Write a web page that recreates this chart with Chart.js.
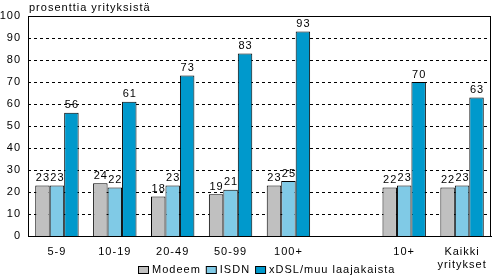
<!DOCTYPE html>
<html><head><meta charset="utf-8">
<script src="https://cdn.jsdelivr.net/npm/chart.js@4/dist/chart.umd.min.js"></script>
<style>html,body{margin:0;padding:0;background:#fff}#wrap{width:493px;height:280px;position:relative}</style>
</head><body><div id="wrap"><canvas id="c" width="493" height="280"></canvas></div>
<script>
const categories = ['5-9','10-19','20-49','50-99','100+','',  '10+', ['Kaikki','yritykset']];
const modeem = [23,24,18,19,23,null,22,22];
const isdn   = [23,22,23,21,25,null,23,23];
const xdsl   = [56,61,73,83,93,null,70,63];
const seriesNames = ['Modeem','ISDN','xDSL/muu laajakaista'];
const seriesColors = ['#c0c0c0','#80cae6','#0099cc'];
const yTitle = 'prosenttia yrityksistä';
const yTicks = [0,10,20,30,40,50,60,70,80,90,100];

const FONT = "'Liberation Sans', Arial, sans-serif";

const framePlugin = {
  id:'frame',
  beforeDraw(chart){
    chart.ctx.letterSpacing = '1px';
  },
  beforeDatasetsDraw(chart){
    const {ctx, chartArea:a, scales} = chart;
    ctx.save();
    ctx.strokeStyle='#000'; ctx.lineWidth=1; ctx.setLineDash([3,3]);
    yTicks.forEach(v=>{
      if(v===0||v===100) return;
      const y = Math.round(scales.y.getPixelForValue(v))+0.5;
      ctx.beginPath(); ctx.moveTo(a.left, y); ctx.lineTo(a.right, y); ctx.stroke();
    });
    ctx.restore();
  },
  afterDraw(chart){
    const {ctx, chartArea:a} = chart;
    ctx.save();
    ctx.letterSpacing = '1px';
    ctx.strokeStyle='#000'; ctx.lineWidth=1; ctx.setLineDash([]);
    ctx.strokeRect(Math.round(a.left)+0.5, Math.round(a.top)+0.5, Math.round(a.right-a.left)-1, Math.round(a.bottom-a.top));
    // title
    ctx.fillStyle='#000'; ctx.font='11px '+FONT; ctx.textAlign='left'; ctx.textBaseline='middle';
    ctx.fillText(yTitle, 29, 8);
    // data labels
    ctx.textAlign='center'; ctx.textBaseline='bottom';
    chart.data.datasets.forEach((ds,i)=>{
      const meta = chart.getDatasetMeta(i);
      meta.data.forEach((bar,j)=>{
        const v = ds.data[j];
        if(v==null) return;
        ctx.fillText(String(v), bar.x+0.5, bar.y-2);
      });
    });
    // legend
    ctx.textAlign='left'; ctx.textBaseline='middle';
    const items = chart.data.datasets.map((ds,i)=>({label:ds.label, color:ds.backgroundColor}));
    const boxW=10, boxH=7, gap=4, itemGap=5;
    let total=0;
    const widths = items.map(it=>{const w=boxW+gap+ctx.measureText(it.label).width; total+=w; return w;});
    total += itemGap*(items.length-1);
    let x = Math.round((chart.width - total)/2)+20;
    const yc = 270;
    items.forEach((it,i)=>{
      ctx.fillStyle=it.color;
      ctx.fillRect(x+0.5, yc-4+0.5, boxW, boxH);
      ctx.strokeStyle='#000';
      ctx.strokeRect(x+0.5, yc-4+0.5, boxW, boxH);
      ctx.fillStyle='#000';
      ctx.fillText(it.label, x+boxW+gap, yc);
      x += widths[i]+itemGap;
    });
    ctx.restore();
  }
};

new Chart(document.getElementById('c'), {
  type:'bar',
  data:{
    labels: categories,
    datasets:[
      {label:seriesNames[0], data:modeem, backgroundColor:seriesColors[0], borderColor:'#000', borderWidth:1},
      {label:seriesNames[1], data:isdn,   backgroundColor:seriesColors[1], borderColor:'#000', borderWidth:1},
      {label:seriesNames[2], data:xdsl,   backgroundColor:seriesColors[2], borderColor:'#000', borderWidth:1}
    ]
  },
  options:{
    responsive:false, animation:false,
    devicePixelRatio:1,
    layout:{padding:{top:16,right:2,left:0,bottom:0}},
    datasets:{bar:{categoryPercentage:0.75, barPercentage:1.0}},
    plugins:{
      legend:{display:false},
      tooltip:{enabled:false}
    },
    scales:{
      x:{
        grid:{display:false, drawTicks:false},
        border:{display:true,color:'#000'},
        ticks:{color:'#000', font:{family:FONT,size:11, lineHeight:1.2}, padding:9, maxRotation:0, autoSkip:false},
        afterFit(s){ s.height = 44; }
      },
      y:{
        min:0,max:100,
        grid:{display:false, drawTicks:false},
        border:{display:true,color:'#000'},
        ticks:{stepSize:10, color:'#000', font:{family:FONT,size:11}, padding:7},
        afterFit(s){ s.width = 28; }
      }
    }
  },
  plugins:[framePlugin]
});
</script></body></html>
